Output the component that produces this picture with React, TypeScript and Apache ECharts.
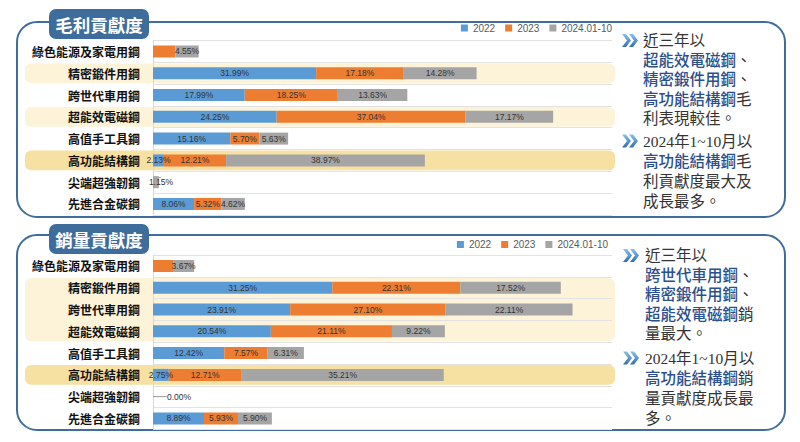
import React, { useEffect, useRef } from 'react';
import * as echarts from 'echarts';

const categories = ['綠色能源及家電用鋼', '精密鍛件用鋼', '跨世代車用鋼', '超能效電磁鋼', '高值手工具鋼', '高功能結構鋼', '尖端超強韌鋼', '先進合金碳鋼'];
const seriesNames = ['2022', '2023', '2024.01-10'];
const colors = ['#5b9bd5', '#ed7d31', '#a5a5a5'];

// 毛利貢獻度 (%)
const profit2022 = [null, 31.99, 17.99, 24.25, 15.16, 2.13, null, 8.06];
const profit2023 = [4.4, 17.18, 18.25, 37.04, 5.70, 12.21, null, 5.32];
const profit2024 = [4.55, 14.28, 13.63, 17.17, 5.63, 38.97, 1.15, 4.62];

// 銷量貢獻度 (%)
const sales2022 = [null, 31.25, 23.91, 20.54, 12.42, 2.75, null, 8.89];
const sales2023 = [3.5, 22.31, 27.10, 21.11, 7.57, 12.71, null, 5.93];
const sales2024 = [3.67, 17.52, 22.11, 9.22, 6.31, 35.21, 0, 5.90];

const panelTitles = ['毛利貢獻度', '銷量貢獻度'];

const profitNote1 = ['近三年以', '{b|超能效電磁鋼}、', '{b|精密鍛件用鋼}、', '{b|高功能結構鋼}毛', '利表現較佳。'];
const profitNote2 = ['2024年1~10月以', '{b|高功能結構鋼}毛', '利貢獻度最大及', '成長最多。'];
const salesNote1 = ['近三年以', '{b|跨世代車用鋼}、', '{b|精密鍛件用鋼}、', '{b|超能效電磁鋼}銷', '量最大。'];
const salesNote2 = ['2024年1~10月以', '{b|高功能結構鋼}銷', '量貢獻度成長最', '多。'];

const GRID_LEFT = 153;
const GRID_W = 459;
const ROW_H = 21.78;
const GRID_TOPS = [40.6, 255.1];
const BOX_TOPS = [22, 235];
const TAB_TOPS = [9, 224];

export default function App() {
  const ref = useRef<HTMLDivElement>(null);
  useEffect(() => {
    const chart = echarts.init(ref.current!, null, { renderer: 'svg' });
    const panels = [
      { values: [profit2022, profit2023, profit2024], max: 90 },
      { values: [sales2022, sales2023, sales2024], max: 80 },
    ];
    const labelFont = "'Liberation Sans Narrow', 'Liberation Sans', sans-serif";
    const series: any[] = [];
    panels.forEach((p, k) => {
      p.values.forEach((vals, s) => {
        series.push({
          type: 'bar',
          name: seriesNames[s],
          stack: 'panel' + k,
          xAxisIndex: k,
          yAxisIndex: k,
          barWidth: 12,
          itemStyle: { color: colors[s] },
          label: {
            show: true,
            position: 'inside',
            fontSize: 8.5,
            fontFamily: labelFont,
            color: '#333',
            formatter: (q: any) => (q.value == null ? '' : Number(q.value).toFixed(2) + '%'),
          },
          labelLine: { show: true, lineStyle: { color: '#9a9a9a', width: 1 } },
          labelLayout: (q: any) => {
            if (s === 2 && q.dataIndex === 6) {
              return k === 1 ? { dx: 26 } : { dx: 5 };
            }
            return {};
          },
          data: vals.map((v, i) => {
            if (v == null) return null;
            if (s === 1 && i === 0) return { value: v, label: { show: false } };
            return v;
          }),
        });
      });
    });

    const elements: any[] = [];
    const chevron = (x: number, y: number) => {
      const grad = new echarts.graphic.LinearGradient(0, 0, 0, 1, [
        { offset: 0, color: '#8cc0ec' },
        { offset: 1, color: '#2f6fb2' },
      ]);
      [0, 7].forEach((o) => {
        elements.push({
          type: 'polygon',
          z: 5,
          shape: {
            points: [
              [x + o, y - 6.5], [x + o + 4, y - 6.5], [x + o + 9, y],
              [x + o + 4, y + 6.5], [x + o, y + 6.5], [x + o + 5, y],
            ],
          },
          style: { fill: grad },
        });
      });
    };
    const noteFont = "'Liberation Serif', 'Noto Sans CJK TC', serif";
    const note = (lines: string[], x: number, y0: number, step: number) => {
      lines.forEach((t, i) => {
        elements.push({
          type: 'text',
          z: 5,
          x,
          y: y0 + i * step,
          style: {
            text: t,
            fill: '#333',
            fontSize: 15.5,
            fontFamily: noteFont,
            verticalAlign: 'middle',
            align: 'left',
            rich: {
              b: { fill: '#2b4f8c', color: '#2b4f8c', fontSize: 15.5, fontWeight: 500, fontFamily: noteFont },
            },
          },
        });
      });
    };

    [0, 1].forEach((k) => {
      elements.push({
        type: 'rect', z: -10,
        shape: { x: 17, y: BOX_TOPS[k], width: 768, height: 195, r: 20 },
        style: { fill: '#fff', stroke: '#3f6e9e', lineWidth: 2 },
      });
      elements.push({
        type: 'rect', z: 10,
        shape: { x: 49, y: TAB_TOPS[k], width: 100, height: 30, r: 7 },
        style: { fill: '#3f6d9b' },
      });
      elements.push({
        type: 'text', z: 11, x: 99, y: TAB_TOPS[k] + 15.5,
        style: {
          text: panelTitles[k], fill: '#fff', fontSize: 17.5, fontWeight: 'bold',
          fontFamily: "'Noto Sans CJK TC', sans-serif", align: 'center', verticalAlign: 'middle',
        },
      });
    });

    const band = (k: number, r0: number, r1: number, color: string) => {
      const top = GRID_TOPS[k];
      elements.push({
        type: 'rect', z: -5,
        shape: { x: 25, y: top + r0 * ROW_H + 1, width: 590, height: (r1 - r0 + 1) * ROW_H - 2, r: 6 },
        style: { fill: color },
      });
    };
    const light = '#fdf3d8';
    const dark = '#f6e0a2';
    band(0, 1, 1, light);
    band(0, 3, 3, light);
    band(0, 5, 5, dark);
    band(1, 1, 3, light);
    band(1, 5, 5, dark);

    chevron(622, 40.5);
    note(profitNote1, 643, 40.5, 19.6);
    chevron(622, 141);
    note(profitNote2, 643, 141, 20.3);
    chevron(623, 255.5);
    note(salesNote1, 645, 255.5, 19.5);
    chevron(623, 358);
    note(salesNote2, 645, 358, 20);

    const option: any = {
      animation: false,
      legend: [
        {
          top: 23, right: 188, padding: 0, itemWidth: 7, itemHeight: 7, itemGap: 10, icon: 'rect',
          textStyle: { fontSize: 10, color: '#595959', fontFamily: "'Liberation Sans', sans-serif" },
          data: seriesNames,
        },
        {
          top: 239.5, right: 192, padding: 0, itemWidth: 7, itemHeight: 7, itemGap: 10, icon: 'rect',
          textStyle: { fontSize: 10, color: '#595959', fontFamily: "'Liberation Sans', sans-serif" },
          data: seriesNames,
        },
      ],
      grid: GRID_TOPS.map((t) => ({ left: GRID_LEFT, top: t, width: GRID_W, height: ROW_H * 8 })),
      xAxis: panels.map((p, k) => ({ type: 'value', gridIndex: k, min: 0, max: p.max, show: false })),
      yAxis: panels.map((p, k) => ({
        type: 'category',
        gridIndex: k,
        inverse: true,
        data: categories,
        axisLine: { show: true, lineStyle: { color: '#d9d9d9' } },
        axisTick: { show: false },
        splitLine: { show: true, lineStyle: { color: '#e2e2e2' } },
        axisLabel: {
          interval: 0, margin: 13, fontSize: 12, color: '#111', fontWeight: 'bold',
          fontFamily: "'Noto Sans CJK TC', sans-serif",
        },
      })),
      graphic: { elements },
      series,
    };
    chart.setOption(option);
    return () => chart.dispose();
  }, []);
  return <div ref={ref} style={{ position: 'absolute', left: 0, top: 0, width: 800, height: 442 }} />;
}
